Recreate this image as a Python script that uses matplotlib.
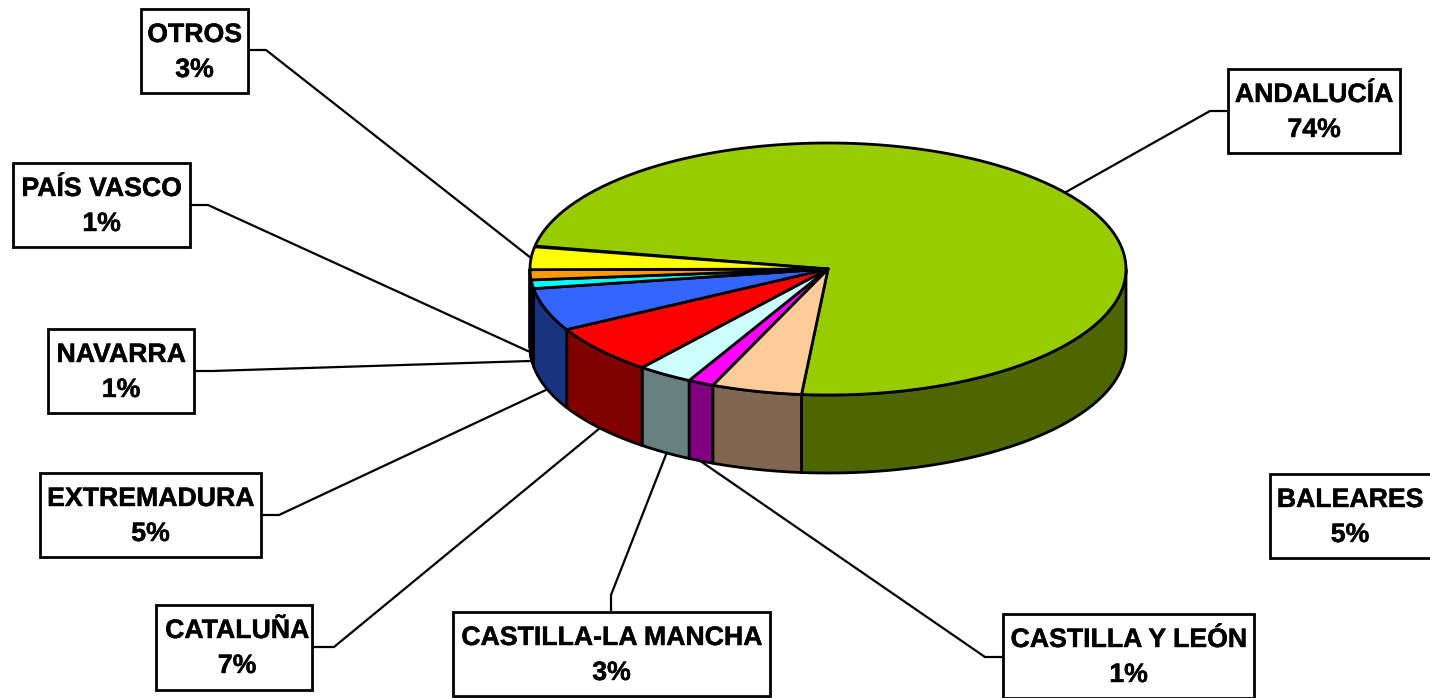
import numpy as np
import matplotlib
matplotlib.use("Agg")
import matplotlib.pyplot as plt
from matplotlib.patches import Polygon, Rectangle
import matplotlib.patheffects as pe

# Data
categories = ["ANDALUCÍA", "BALEARES", "CASTILLA Y LEÓN", "CASTILLA-LA MANCHA", "CATALUÑA",
              "EXTREMADURA", "NAVARRA", "PAÍS VASCO", "OTROS"]
labels_pct = [74, 5, 1, 3, 7, 5, 1, 1, 3]
shares = [73.5, 4.9, 1.4, 3.0, 6.3, 5.5, 1.1, 1.3, 2.9]
top_colors = ["#99CC00", "#FFCC99", "#FF00FF", "#CCFFFF", "#FF0000",
              "#3366FF", "#00FFFF", "#FF9900", "#FFFF00"]
side_colors = ["#4D6600", "#806650", "#800080", "#668080", "#800000",
               "#1A3380", "#008080", "#804C00", "#808000"]

# Layout in pixels
W, H = 1430, 698
CX, CY, RX, RY, DEPTH = 828, 269, 298, 126, 78
START = 169.5
boxes = {
    "ANDALUCÍA": (1228, 69, 1400, 153),
    "BALEARES": (1270, 474, 1436, 558),
    "CASTILLA Y LEÓN": (1003, 614, 1254, 698),
    "CASTILLA-LA MANCHA": (453, 612, 770, 696),
    "CATALUÑA": (156, 605, 312, 690),
    "EXTREMADURA": (40, 473, 261, 557),
    "NAVARRA": (48, 329, 194, 413),
    "PAÍS VASCO": (13, 163, 190, 247),
    "OTROS": (141, 9, 248, 93),
}
text_x = {"BALEARES": 1350, "CATALUÑA": 237}
leaders = {
    "ANDALUCÍA": [(1228, 111), (1210, 111), (1066, 192)],
    "CASTILLA Y LEÓN": [(1003, 657), (985, 657), (696, 458)],
    "CASTILLA-LA MANCHA": [(611, 612), (611, 595), (667, 452)],
    "CATALUÑA": [(312, 647), (334, 647), (600, 428)],
    "EXTREMADURA": [(261, 515), (279, 515), (548, 389)],
    "NAVARRA": [(194, 371), (212, 371), (530, 361)],
    "PAÍS VASCO": [(190, 205), (208, 205), (530, 352)],
    "OTROS": [(248, 50), (266, 50), (531, 258)],
}

plt.rcParams["font.family"] = ["Liberation Sans", "DejaVu Sans"]
fig = plt.figure(figsize=(W / 100, H / 100), dpi=100)
ax = fig.add_axes([0, 0, 1, 1])
ax.set_xlim(0, W)
ax.set_ylim(H, 0)
ax.axis("off")


def arc(a0, a1, dy=0.0):
    t = np.radians(np.linspace(a0, a1, max(int(abs(a1 - a0) * 2), 2)))
    return np.column_stack([CX + RX * np.cos(t), CY - RY * np.sin(t) + dy])


LW = 2.0
# Leader lines
for name, pts in leaders.items():
    xs, ys = zip(*pts)
    ax.plot(xs, ys, color="black", lw=1.6, zorder=1, solid_joinstyle="miter")

# Wedge angles (clockwise from START)
edges = START - np.cumsum([0] + shares) * 3.6
wedges = list(zip(edges[:-1], edges[1:]))

# Side walls: only the front half of the ellipse (180..360 deg) shows
for (a0, a1), col in zip(wedges, side_colors):
    for k in (0, 1):
        hi = min(a0 + 360 * k, 360)
        lo = max(a1 + 360 * k, 180)
        if hi > lo:
            top = arc(lo, hi)
            bot = arc(hi, lo, DEPTH)
            ax.add_patch(Polygon(np.vstack([top, bot]), closed=True, fc=col, ec="black",
                                 lw=LW, joinstyle="round", zorder=2))

# Top faces
for (a0, a1), col in zip(wedges, top_colors):
    pts = np.vstack([[CX, CY], arc(a1, a0)])
    ax.add_patch(Polygon(pts, closed=True, fc=col, ec="black", lw=LW,
                         joinstyle="round", zorder=3))

# Label boxes
stroke = [pe.withStroke(linewidth=0.3, foreground="black")]
for name, pct in zip(categories, labels_pct):
    x0, y0, x1, y1 = boxes[name]
    ax.add_patch(Rectangle((x0, y0), x1 - x0, y1 - y0, fc="white", ec="black",
                           lw=2.0, zorder=4, clip_on=False))
    xc = text_x.get(name, (x0 + x1) / 2)
    for dy, s in ((26, name), (61, f"{pct}%")):
        ax.text(xc, y0 + dy, s, ha="center", va="center", fontsize=19.2,
                fontweight="bold", color="black", zorder=5, path_effects=stroke)

fig.savefig("out.png", dpi=100, facecolor="white")
